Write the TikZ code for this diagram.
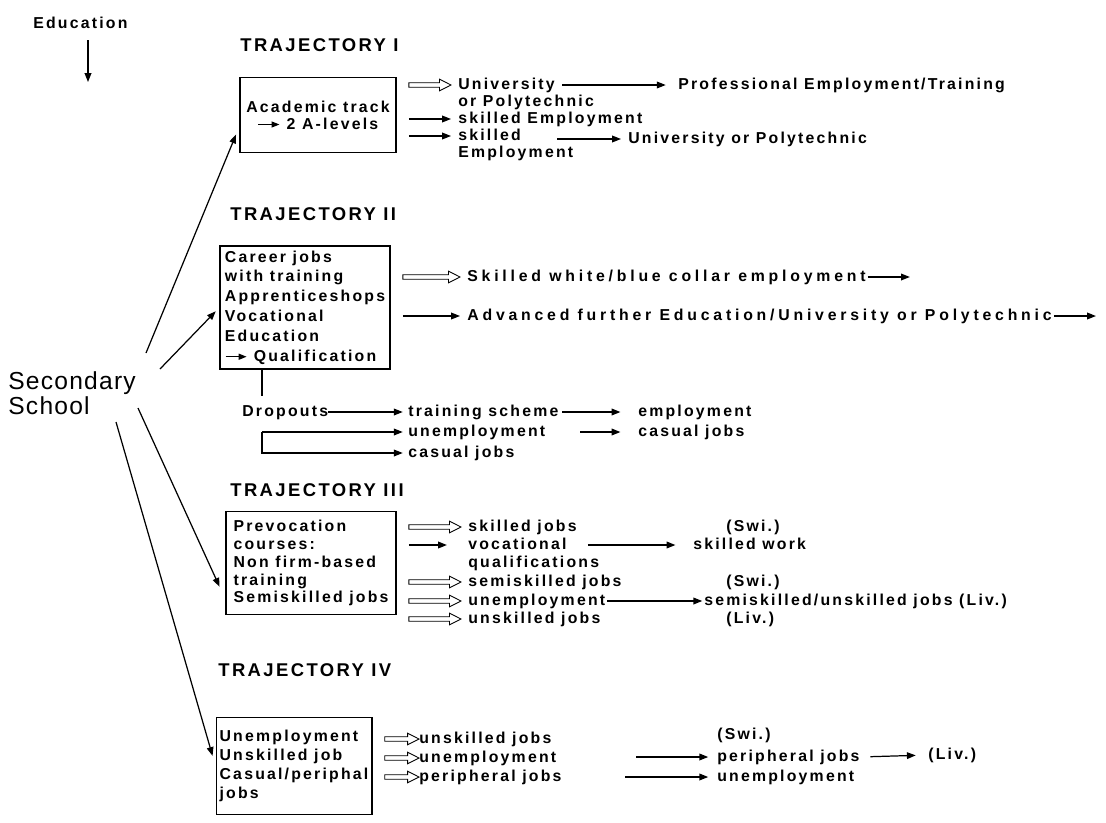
\documentclass[tikz,border=0pt]{standalone}
\usepackage{fontspec}
\setmainfont{Liberation Sans}
\newfontfamily\lab{Liberation Sans}[LetterSpace=14]
\newfontfamily\labwide{Liberation Sans}[LetterSpace=24]
\newfontfamily\ttlfont{Liberation Sans}[LetterSpace=13]
\newfontfamily\schoolfont{Liberation Sans}[LetterSpace=5]
\usetikzlibrary{arrows.meta, calc, positioning}

\newcommand{\tarr}{\tikz[baseline=-0.55ex]\draw[line width=.7pt,-{Triangle[length=4.5pt,width=3.4pt]}] (0,0) -- (12pt,0);}

\begin{document}
\begin{tikzpicture}
		[x=0.02cm, y=-0.02cm,
		lbl/.style = {anchor=mid west, inner sep=0pt, font=\lab\bfseries\fontsize{9}{10}\selectfont},
		wide/.style = {lbl, font=\labwide\bfseries\fontsize{9}{10}\selectfont},
		ttl/.style = {anchor=mid west, inner sep=0pt, font=\ttlfont\bfseries\fontsize{10.5}{12}\selectfont},
		box/.style = {draw=black, rectangle, line width=.7pt, inner sep=2pt, align=left, font=\lab\bfseries\fontsize{9}{#1}\selectfont},
		arr/.style = {line width=.7pt, -{Triangle[length=5pt,width=3.8pt]}},
		hol/.style = {line width=.5pt, fill=white, to path={let \p1=(\tikztostart), \p2=(\tikztotarget) in
			(\x1+7pt,\y2+1.3pt) -- (\x2-#1-6.5pt,\y2+1.3pt) -- (\x2-#1-6.5pt,\y2+3.3pt) -- (\x2-#1,\y2)
			-- (\x2-#1-6.5pt,\y2-3.3pt) -- (\x2-#1-6.5pt,\y2-1.3pt) -- (\x1+7pt,\y2-1.3pt) -- cycle}},
		hol/.default=4pt]
		\useasboundingbox (0,0) rectangle (1106,822);
		
		% left column
		\node[lbl, font=\lab\bfseries\fontsize{9}{11}\selectfont] (edu) at (33,24) {Education};
		\coordinate (edutop) at (88,40);
		\coordinate (edubot) at (88,82);
		\draw[arr] (edutop) -- (edubot);
		\node[anchor=west, inner sep=0pt, align=left, font=\schoolfont\fontsize{14}{12.8}\selectfont] (sec) at (8,393) {Secondary\\School};
		\coordinate (s1) at (146,353);
		\coordinate (s2) at (160,369);
		\coordinate (s3) at (138,408);
		\coordinate (s4) at (116,422);
		
		% trajectory I
		\node[ttl] (t1) at (240,47) {TRAJECTORY I};
		\node[box=9.6pt, align=center, minimum width=156*0.02cm, minimum height=75*0.02cm] (b1) at (318,115) {Academic track\\\tarr\ 2 A-levels};
		\foreach \y/\nm/\txt in {
			85/r1a/University,
			102/r1b/or Polytechnic,
			119/r1c/skilled Employment,
			136/r1d/skilled,
			153/r1e/Employment}{
			\node[lbl] (\nm) at (458,\y) {\txt};
		}
		\node[lbl] (p1) at (678,85) {Professional Employment/Training};
		\node[lbl] (p2) at (628,139) {University or Polytechnic};
		\coordinate (r1dgo) at (557,139);
		\draw[hol] (b1.east) to (r1a.mid west);
		\draw[arr, shorten <=7pt, shorten >=4pt] (b1.east |- r1c.mid west) -- (r1c.mid west);
		\draw[arr, shorten <=7pt, shorten >=4pt] (b1.east |- r1d.mid west) -- (r1d.mid west);
		\draw[arr, shorten <=4pt, shorten >=7pt] (r1a.mid east) -- (p1.mid west);
		\draw[arr, shorten >=4pt] (r1dgo) -- (p2.mid west);
		
		% trajectory II
		\node[ttl] (t2) at (230,216) {TRAJECTORY II};
		\node[box=11.3pt, minimum width=170*0.02cm, minimum height=123*0.02cm] (b2) at (305,307.5)
			{Career jobs\\with training\\Apprenticeshops\\Vocational\\Education\\\tarr\ Qualification};
		\node[wide] (s2a) at (467,277) {Skilled white/blue collar employment};
		\node[wide] (s2b) at (467,316) {Advanced further Education/University or Polytechnic};
		\coordinate (s2aend) at ([xshift=25pt]s2a.mid east);
		\coordinate (s2bend) at ([xshift=25pt]s2b.mid east);
		\draw[hol] (b2.east) to (s2a.mid west);
		\draw[arr, shorten <=7pt, shorten >=4pt] (b2.east |- s2b.mid west) -- (s2b.mid west);
		\draw[arr, shorten <=1pt] (s2a.mid east) -- (s2aend);
		\draw[arr, shorten <=1pt] (s2b.mid east) -- (s2bend);
		
		% dropouts
		\coordinate (dv) at (262,396);
		\draw[line width=.7pt] (b2.south -| dv) -- (dv);
		\node[lbl] (d) at (242,412) {Dropouts};
		\node[lbl] (ts) at (408,412) {training scheme};
		\node[lbl] (un) at (408,432) {unemployment};
		\node[lbl] (cj) at (408,453) {casual jobs};
		\node[lbl] (em) at (638,412) {employment};
		\node[lbl] (cj2) at (638,432) {casual jobs};
		\coordinate (bk) at (262,432);
		\coordinate (ungo) at (580,432);
		\draw[arr, shorten >=3pt] (d.mid east) -- (ts.mid west);
		\draw[arr, shorten <=2pt, shorten >=10pt] (ts.mid east) -- (em.mid west);
		\draw[arr, shorten >=10pt] (ungo) -- (cj2.mid west);
		\draw[arr, shorten >=3pt] (bk) -- (un.mid west);
		\draw[arr, shorten >=3pt] (bk) |- (cj.mid west);
		
		% trajectory III
		\node[ttl] (t3) at (230,492) {TRAJECTORY III};
		\node[box=10.2pt, minimum width=170*0.02cm, minimum height=103*0.02cm] (b3) at (311,563)
			{Prevocation\\courses:\\Non firm-based\\training\\Semiskilled jobs};
		\foreach \y/\nm/\txt in {
			527/q1/skilled jobs,
			545/q2/vocational,
			563/q3/qualifications,
			582/q4/semiskilled jobs,
			601/q5/unemployment,
			619/q6/unskilled jobs}{
			\node[lbl] (\nm) at (468,\y) {\txt};
		}
		\foreach \nm in {q1, q4, q5, q6}{
			\draw[hol] (b3.east) to (\nm.mid west);
		}
		\draw[arr, shorten <=7pt, shorten >=12pt] (b3.east |- q2.mid west) -- (q2.mid west);
		\node[lbl] (sw1) at (726,527) {(Swi.)};
		\node[lbl] (sw2) at (726,582) {(Swi.)};
		\node[lbl] (lv1) at (726,619) {(Liv.)};
		\node[lbl] (sk) at (693,545) {skilled work};
		\node[lbl] (ssu) at (704,601) {semiskilled/unskilled jobs (Liv.)};
		\draw[arr, shorten <=12pt, shorten >=10pt] (q2.mid east) -- (sk.mid west);
		\draw[arr, shorten <=1pt, shorten >=1pt] (q5.mid east) -- (ssu.mid west);
		
		% trajectory IV
		\node[ttl] (t4) at (218,672) {TRAJECTORY IV};
		\node[box=10.9pt, minimum width=150*0.02cm, minimum height=97*0.02cm] (b4) at (294,766)
			{Unemployment\\Unskilled job\\Casual/periphal\\jobs};
		\foreach \y/\nm/\txt in {
			739/u1/unskilled jobs,
			758/u2/unemployment,
			777/u3/peripheral jobs}{
			\node[lbl] (\nm) at (419,\y) {\txt};
			\draw[hol=0pt] (b4.east) to (\nm.mid west);
		}
		\node[lbl] (sw3) at (717,735) {(Swi.)};
		\node[lbl] (pj) at (717,757) {peripheral jobs};
		\node[lbl] (ue) at (717,777) {unemployment};
		\node[lbl] (lv2) at (928,755) {(Liv.)};
		\coordinate (u2go) at (636,757);
		\coordinate (u3go) at (625,777);
		\draw[arr, shorten >=5pt] (u2go) -- (pj.mid west);
		\draw[arr, shorten >=5pt] (u3go) -- (ue.mid west);
		\draw[arr, shorten <=6pt, shorten >=7pt] (pj.mid east) -- (lv2.mid west);
		
		% from secondary school
		\draw[arr, shorten >=5pt] (s1) -- ($(b1.south west)!0.35!(b1.north west)$);
		\draw[arr, shorten >=3pt] (s2) -- (b2.west);
		\draw[arr, shorten >=8pt] (s3) -- ($(b3.south west)!0.15!(b3.north west)$);
		\draw[arr, shorten >=6pt] (s4) -- (b4.west);
	\end{tikzpicture}
\end{document}
